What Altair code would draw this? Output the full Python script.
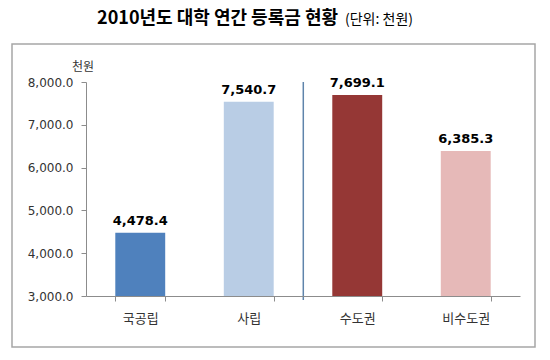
import altair as alt
import pandas as pd

categories = ["국공립", "사립", "수도권", "비수도권"]
values = [4478.4, 7540.7, 7699.1, 6385.3]
colors = ["#4f81bd", "#b9cde5", "#953735", "#e6b9b8"]
title_main = "2010년도 대학 연간 등록금 현황"
title_unit = "(단위: 천원)"
unit_label = "천원"
divider_at = ["수도권"]

df = pd.DataFrame({"cat": categories, "val": values})
W, H = 434, 214
FONT = "Noto Sans CJK KR"

xscale = alt.Scale(domain=categories, paddingInner=0.54, paddingOuter=0.27)
yscale = alt.Scale(domain=[3000, 8000], nice=False, zero=False)

frame = alt.Chart(pd.DataFrame({"a": [0]})).mark_rect(
    fill="white", stroke="#a6a6a6", strokeWidth=1.5
).encode(x=alt.value(-74), x2=alt.value(449), y=alt.value(-38), y2=alt.value(265))

bars = alt.Chart(df).mark_bar(clip=True).encode(
    x=alt.X("cat:N", scale=xscale, sort=categories, title=None,
            axis=alt.Axis(labelAngle=0, tickBand="extent", tickSize=5, labelPadding=11,
                          labelFont=FONT, labelFontSize=13, labelColor="#333333",
                          domainColor="#8c8c8c", tickColor="#8c8c8c", zindex=2)),
    y=alt.Y("val:Q", scale=yscale, title=None,
            axis=alt.Axis(values=[3000, 4000, 5000, 6000, 7000, 8000], format=",.1f",
                          grid=False, tickSize=5, labelPadding=8,
                          labelFont="DejaVu Sans", labelFontSize=12, labelColor="#333333",
                          domainColor="#8c8c8c", tickColor="#8c8c8c", zindex=2)),
    color=alt.Color("cat:N", scale=alt.Scale(domain=categories, range=colors), legend=None),
)

labels = alt.Chart(df).mark_text(
    font="DejaVu Sans", fontSize=13, fontWeight="bold", dy=-12, color="#000000"
).encode(
    x=alt.X("cat:N", scale=xscale, sort=categories),
    y=alt.Y("val:Q", scale=yscale),
    text=alt.Text("val:Q", format=",.1f"),
)

divider = alt.Chart(pd.DataFrame({"cat": divider_at, "top": [8000]})).mark_rule(
    color="#5f84ab", strokeWidth=1.5, xOffset=-29
).encode(
    x=alt.X("cat:N", scale=xscale, sort=categories, bandPosition=0),
    y=alt.Y("top:Q", scale=yscale),
    y2=alt.value(H + 4),
)

t1 = alt.Chart(pd.DataFrame({"t": [title_main]})).mark_text(
    font=FONT, fontSize=18, fontWeight="bold", align="right", baseline="alphabetic", color="#000000"
).encode(x=alt.value(252), y=alt.value(-58), text="t:N")

t2 = alt.Chart(pd.DataFrame({"t": [title_unit]})).mark_text(
    font=FONT, fontSize=14, align="left", baseline="alphabetic", color="#000000"
).encode(x=alt.value(259), y=alt.value(-58), text="t:N")

t3 = alt.Chart(pd.DataFrame({"t": [unit_label]})).mark_text(
    font=FONT, fontSize=12, align="center", baseline="middle", color="#333333"
).encode(x=alt.value(-3), y=alt.value(-15), text="t:N")

chart = alt.layer(frame, bars, labels, divider, t1, t2, t3).properties(
    width=W, height=H,
    autosize=alt.AutoSizeParams(type="none"),
    padding={"left": 78, "top": 74, "right": 20, "bottom": 60},
    background="white",
).configure_view(stroke=None)

chart.save("out.html", embed_options={"renderer": "svg", "actions": False})
